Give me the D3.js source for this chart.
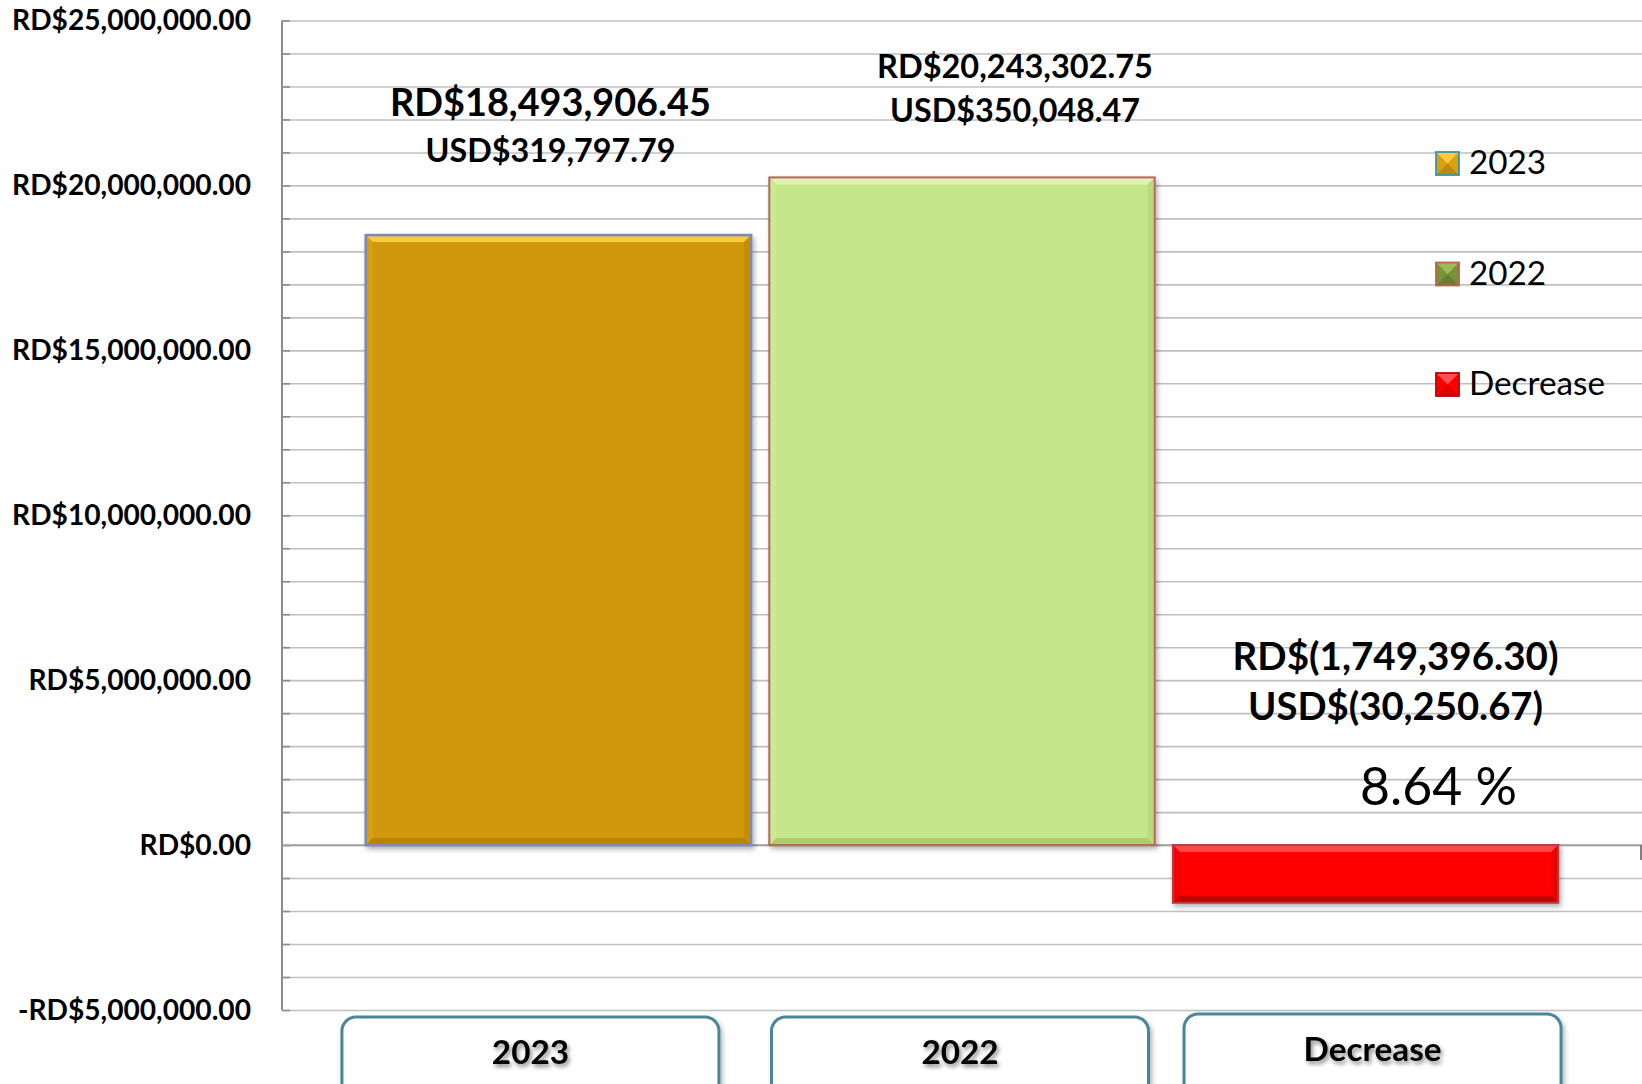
<!DOCTYPE html>
<html><head><meta charset="utf-8">
<script src="https://cdn.jsdelivr.net/npm/d3@7"></script>
<style>
html,body{margin:0;padding:0;background:#fff;}
svg{display:block;font-family:Lato,"Noto Sans",sans-serif;}
</style></head>
<body>
<svg id="chart" width="1642" height="1084"></svg>
<script>
// ---------- DATA ----------
const categories = ["2023", "2022", "Decrease"];
const valuesRD = [18493906.45, 20243302.75, -1749396.30];
const valuesUSD = [319797.79, 350048.47, -30250.67];
const percentText = "8.64 %";
const yTickValues = [-5000000, 0, 5000000, 10000000, 15000000, 20000000, 25000000];
const legendLabels = ["2023", "2022", "Decrease"];

// ---------- LAYOUT / STYLE ----------
const W = 1642, H = 1084;
const plotLeft = 282, plotTop = 20.5, plotBottom = 1010;
const styles = [
  {main:"#D29807", top:"#F8CC42", left:"#D6A010", right:"#C48E06", bottom:"#B88404", stroke:"#7F8BAE", sw:2.6,
   swMain:"#D9A010", swTop:"#F7CC3A", swStroke:"#3A93B0"},
  {main:"#C6E68A", top:"#E0F2B6", left:"#CBE993", right:"#BBDA7E", bottom:"#ADCD70", stroke:"#B8675C", sw:2,
   swMain:"#76933C", swTop:"#9BBB59", swStroke:"#C0604D"},
  {main:"#FE0505", top:"#FF4A4A", left:"#F50303", right:"#E80000", bottom:"#C40000", stroke:"#B04040", sw:2,
   swMain:"#FE0000", swTop:"#FF5050", swStroke:"#C00000"}
];
const labelLayout = [
  {dx:-8, rdY:116, usdY:162, rdW:321, usdW:250},
  {dx:53, rdY:78, usdY:122, rdW:276, usdW:250},
  {dx:30, rdY:670, usdY:720, rdW:326, usdW:295}
];
const boxShift = [-28, -2, 7];

const svg = d3.select("#chart");
const defs = svg.append("defs");
const sh = defs.append("filter").attr("id","shadow").attr("x","-10%").attr("y","-10%").attr("width","130%").attr("height","140%");
sh.append("feDropShadow").attr("dx",2).attr("dy",3).attr("stdDeviation",2.5).attr("flood-color","#000").attr("flood-opacity",0.3);
const tsh = defs.append("filter").attr("id","tshadow").attr("x","-20%").attr("y","-30%").attr("width","150%").attr("height","180%");
tsh.append("feDropShadow").attr("dx",2).attr("dy",3).attr("stdDeviation",2).attr("flood-color","#000").attr("flood-opacity",0.45);

const x = d3.scaleBand().domain(categories).range([plotLeft, W]).paddingInner(0.045).paddingOuter(0.2075);
const y = d3.scaleLinear().domain([-5000000, 25000000]).range([plotBottom, plotTop]);

const fmt = d3.format(",.2f");
const axisFmt = v => (v < 0 ? "-RD$" : "RD$") + fmt(Math.abs(v));
const rdFmt = v => v < 0 ? "RD$(" + fmt(-v) + ")" : "RD$" + fmt(v);
const usdFmt = v => v < 0 ? "USD$(" + fmt(-v) + ")" : "USD$" + fmt(v);

function fit(sel, target) {
  sel.attr("font-size", 100);
  const len = sel.node().getComputedTextLength();
  const fs = 100 * target / len;
  sel.attr("font-size", fs);
  return fs;
}

// ---------- GRID ----------
const minor = d3.range(-5000000, 25000001, 1000000);
const grid = svg.append("g").attr("transform", `translate(${plotLeft},0)`)
  .call(d3.axisRight(y).tickValues(minor).tickSize(W - plotLeft).tickFormat(""));
grid.select(".domain").remove();
grid.selectAll("line").attr("stroke", "#C0C0C0").attr("stroke-width", 1.6);
const tm = svg.append("g").attr("transform", `translate(${plotLeft},0)`)
  .call(d3.axisRight(y).tickValues(minor).tickSize(8).tickFormat(""));
tm.select(".domain").remove();
tm.selectAll("line").attr("stroke", "#8C8C8C").attr("stroke-width", 1.6);
svg.append("line").attr("x1", plotLeft).attr("x2", plotLeft).attr("y1", y(25000000)).attr("y2", y(-5000000))
  .attr("stroke", "#8C8C8C").attr("stroke-width", 2);
svg.append("line").attr("x1", plotLeft).attr("x2", W).attr("y1", y(0)).attr("y2", y(0))
  .attr("stroke", "#A0A0A0").attr("stroke-width", 1.6);
svg.append("line").attr("x1", W - 1).attr("x2", W - 1).attr("y1", y(0)).attr("y2", y(0) + 15)
  .attr("stroke", "#808080").attr("stroke-width", 2);

// ---------- Y AXIS LABELS ----------
const yAxis = svg.append("g").attr("transform", `translate(${plotLeft},0)`)
  .call(d3.axisLeft(y).tickValues(yTickValues).tickSize(0).tickPadding(31).tickFormat(axisFmt));
yAxis.select(".domain").remove();
yAxis.selectAll("text").attr("font-family", "Lato").attr("font-weight", "bold").attr("fill", "#000");
const firstLbl = yAxis.selectAll("text").filter(d => d === 25000000);
const yfs = fit(firstLbl, 239);
yAxis.selectAll("text").attr("font-size", yfs);

// ---------- BARS ----------
const b = 7;
const bars = svg.append("g").selectAll("g").data(categories).join("g").attr("filter", "url(#shadow)");
bars.each(function(c, i) {
  const g = d3.select(this);
  const v = valuesRD[i], s = styles[i];
  const x0 = x(c), x1 = x(c) + x.bandwidth();
  const y0 = Math.min(y(v), y(0)), y1 = Math.max(y(v), y(0));
  g.append("rect").attr("x", x0).attr("y", y0).attr("width", x1 - x0).attr("height", y1 - y0).attr("fill", s.main);
  const poly = (pts, fill) => g.append("polygon").attr("points", pts.map(p => p.join(",")).join(" ")).attr("fill", fill);
  poly([[x0, y0], [x1, y0], [x1 - b, y0 + b], [x0 + b, y0 + b]], s.top);
  poly([[x0, y1], [x1, y1], [x1 - b, y1 - b], [x0 + b, y1 - b]], s.bottom);
  poly([[x0, y0], [x0 + b, y0 + b], [x0 + b, y1 - b], [x0, y1]], s.left);
  poly([[x1, y0], [x1 - b, y0 + b], [x1 - b, y1 - b], [x1, y1]], s.right);
  g.append("rect").attr("x", x0).attr("y", y0).attr("width", x1 - x0).attr("height", y1 - y0)
    .attr("fill", "none").attr("stroke", s.stroke).attr("stroke-width", s.sw);
});

// ---------- VALUE LABELS ----------
const labels = svg.append("g");
categories.forEach((c, i) => {
  const L = labelLayout[i];
  const cx = x(c) + x.bandwidth() / 2 + L.dx;
  const t1 = labels.append("text").attr("x", cx).attr("y", L.rdY).attr("text-anchor", "middle")
    .attr("font-weight", "bold").attr("fill", "#000").text(rdFmt(valuesRD[i]));
  fit(t1, L.rdW);
  const t2 = labels.append("text").attr("x", cx).attr("y", L.usdY).attr("text-anchor", "middle")
    .attr("font-weight", "bold").attr("fill", "#000").text(usdFmt(valuesUSD[i]));
  fit(t2, L.usdW);
});
const pct = labels.append("text").attr("x", x("Decrease") + x.bandwidth() / 2 + 73).attr("y", 805)
  .attr("text-anchor", "middle").attr("fill", "#000").text(percentText);
fit(pct, 157);

// ---------- LEGEND ----------
const legend = svg.append("g").attr("transform", "translate(1436,152)");
const li = legend.selectAll("g").data(legendLabels).join("g").attr("transform", (d, i) => `translate(0,${i * 110.5})`);
li.each(function(d, i) {
  const g = d3.select(this), s = styles[i], z = 23, h = 11.5;
  g.append("rect").attr("width", z).attr("height", z).attr("fill", s.swMain);
  g.append("polygon").attr("points", `0,0 ${z},0 ${h},${h}`).attr("fill", s.swTop);
  g.append("polygon").attr("points", `0,${z} ${z},${z} ${h},${h}`).attr("fill", d3.color(s.swMain).darker(0.4));
  g.append("rect").attr("width", z).attr("height", z).attr("fill", "none").attr("stroke", s.swStroke).attr("stroke-width", 1.8);
});
const ltexts = li.append("text").attr("x", 33).attr("y", 22).attr("fill", "#000").text(d => d);
const lfs = fit(ltexts.filter(d => d === "Decrease"), 136);
ltexts.attr("font-size", lfs);

// ---------- CATEGORY BOXES ----------
const boxes = svg.append("g").selectAll("g").data(categories).join("g")
  .attr("transform", (d, i) => `translate(${x(d) + x.bandwidth() / 2 + boxShift[i]},0)`);
boxes.append("rect").attr("x", -188.5).attr("y", (d, i) => i === 2 ? 1014 : 1017).attr("width", 377).attr("height", 100)
  .attr("rx", 14).attr("fill", "#fff").attr("stroke", "#4A8798").attr("stroke-width", 3).attr("filter", "url(#shadow)");
const ctexts = boxes.append("text").attr("x", 0).attr("y", (d, i) => i === 2 ? 1061 : 1064).attr("text-anchor", "middle")
  .attr("font-weight", "bold").attr("fill", "#000").attr("filter", "url(#tshadow)").text(d => d);
const cfs = fit(ctexts.filter(d => d === "Decrease"), 138);
ctexts.attr("font-size", cfs);
</script>
</body></html>
